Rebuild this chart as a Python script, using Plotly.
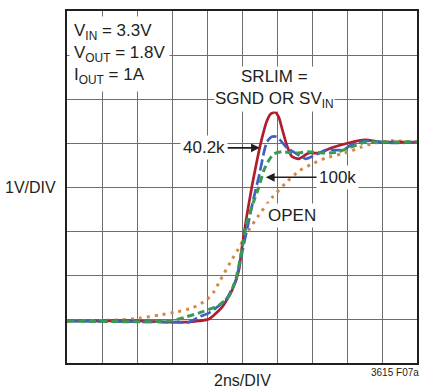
import plotly.graph_objects as go

# Time axis in divisions (2ns/DIV), amplitude in divisions (1V/DIV)
red_t = [0, 0.94, 2.07, 2.93, 3.35, 3.78, 4.06, 4.43, 4.72, 4.91, 5.0, 5.14, 5.28, 5.43,
         5.57, 5.71, 5.82, 5.94, 6.05, 6.14, 6.28, 6.42, 6.62, 6.90, 7.19, 7.56, 8.04,
         8.52, 8.98, 9.46, 10]
red_v = [0.955, 0.955, 0.955, 0.93, 0.93, 0.955, 1.0, 1.27, 1.66, 2.11, 2.64, 3.36, 4.0, 4.61,
         5.11, 5.5, 5.66, 5.70, 5.59, 5.34, 4.95, 4.70, 4.64, 4.77, 4.77, 4.89, 5.0,
         5.07, 5.02, 5.02, 5.02]

blue_t = [0, 2.93, 3.49, 3.78, 4.06, 4.55, 4.83, 5.0, 5.20, 5.34, 5.48, 5.63, 5.71, 5.85,
          5.99, 6.14, 6.28, 6.53, 6.82, 7.10, 7.39, 7.67, 7.90, 8.10, 8.52, 8.98, 9.46, 10]
blue_v = [0.955, 0.93, 0.93, 1.05, 1.14, 1.45, 1.89, 2.5, 3.25, 3.77, 4.23, 4.80, 5.02, 5.14,
          5.14, 5.02, 4.89, 4.77, 4.64, 4.73, 4.84, 4.84, 4.84, 4.95, 5.05, 5.02, 5.0, 5.02]

green_t = [0, 2.93, 3.41, 3.86, 4.35, 4.63, 4.83, 5.0, 5.14, 5.34, 5.48, 5.63, 5.77, 5.91,
           6.14, 6.53, 6.90, 7.39, 7.76, 8.13, 8.52, 8.98, 10]
green_v = [0.955, 0.955, 1.05, 1.16, 1.32, 1.52, 1.93, 2.59, 3.2, 3.68, 4.0, 4.39, 4.61, 4.75,
           4.80, 4.77, 4.80, 4.77, 4.80, 4.91, 5.02, 5.02, 5.02]

orange_t = [0, 1.51, 2.07, 2.64, 3.13, 3.58, 3.98, 4.18, 4.35, 4.72, 4.91, 5.14, 5.48, 5.85,
            6.25, 6.62, 6.99, 7.39, 7.84, 8.13, 8.41, 8.81, 9.26, 10]
orange_v = [0.955, 0.98, 1.02, 1.09, 1.16, 1.25, 1.43, 1.6, 1.84, 2.36, 2.61, 2.95, 3.36, 3.75,
            4.09, 4.36, 4.52, 4.66, 4.75, 4.82, 4.91, 5.0, 5.05, 5.02]

FONT = "Liberation Sans Narrow, Liberation Sans, Arial, sans-serif"
INK = "#231f20"
FS = 17

fig = go.Figure()
fig.add_trace(go.Scatter(x=orange_t, y=orange_v, mode="lines",
                         line=dict(color="#d48a45", width=3, dash="3px,5px", shape="spline", smoothing=0.6)))
fig.add_trace(go.Scatter(x=red_t, y=red_v, mode="lines",
                         line=dict(color="#ad1f2b", width=2.7, shape="spline", smoothing=0.6)))
fig.add_trace(go.Scatter(x=blue_t, y=blue_v, mode="lines",
                         line=dict(color="#3d5fc6", width=2.7, dash="11px,4px", shape="spline", smoothing=0.5)))
fig.add_trace(go.Scatter(x=green_t, y=green_v, mode="lines",
                         line=dict(color="#3b9a51", width=3, dash="7px,4px", shape="spline", smoothing=0.6)))

ann = []
ann.append(dict(x=0, y=7.9, xref="x", yref="y", xanchor="left", yanchor="top", align="left",
                text="V<sub>IN</sub> = 3.3V<br>V<sub>OUT</sub> = 1.8V<br>I<sub>OUT</sub> = 1A",
                showarrow=False, bgcolor="white", borderpad=4, xshift=2, yshift=-1,
                font=dict(family=FONT, size=FS, color=INK)))
ann.append(dict(x=5.94, y=6.3, xref="x", yref="y", align="center", yshift=-3,
                text="SRLIM =<br>SGND OR SV<sub>IN</sub>",
                showarrow=False, bgcolor="white", borderpad=0,
                font=dict(family=FONT, size=FS, color=INK)))
ann.append(dict(x=5.51, y=4.89, ax=3.92, ay=4.89, xref="x", yref="y", axref="x", ayref="y",
                text="40.2k", showarrow=True, arrowhead=2, arrowsize=1.1, arrowwidth=1.6,
                arrowcolor=INK, bgcolor="white", borderpad=2,
                font=dict(family=FONT, size=FS, color=INK)))
ann.append(dict(x=5.68, y=4.22, ax=7.73, ay=4.22, xref="x", yref="y", axref="x", ayref="y",
                text="100k", showarrow=True, arrowhead=2, arrowsize=1.1, arrowwidth=1.6,
                arrowcolor=INK, bgcolor="white", borderpad=2,
                font=dict(family=FONT, size=FS, color=INK)))
ann.append(dict(x=6.42, y=3.36, xref="x", yref="y", text="OPEN", showarrow=False,
                bgcolor="white", borderpad=2, font=dict(family=FONT, size=FS, color=INK)))
ann.append(dict(x=0, y=0.5, xref="paper", yref="paper", xanchor="right", yanchor="middle",
                xshift=-9, text="1V/DIV", showarrow=False,
                font=dict(family=FONT, size=16, color=INK)))
ann.append(dict(x=0.5, y=0, xref="paper", yref="paper", xanchor="center", yanchor="middle",
                yshift=-17, text="2ns/DIV", showarrow=False,
                font=dict(family=FONT, size=16, color=INK)))
ann.append(dict(x=1, y=0, xref="paper", yref="paper", xanchor="right", yanchor="middle",
                xshift=4, yshift=-9, text="3615 F07a", showarrow=False,
                font=dict(family=FONT, size=10, color=INK)))

fig.update_layout(
    width=422, height=388,
    margin=dict(l=67, r=3, t=11, b=25),
    paper_bgcolor="white", plot_bgcolor="white",
    showlegend=False,
    annotations=ann,
)
fig.update_xaxes(range=[0, 10], dtick=1, tick0=0, showticklabels=False, ticks="",
                 showgrid=True, gridcolor="#6d6e71", gridwidth=1.3, zeroline=False,
                 showline=True, mirror=True, linecolor=INK, linewidth=2)
fig.update_yaxes(range=[0, 8], dtick=1, tick0=0, showticklabels=False, ticks="",
                 showgrid=True, gridcolor="#6d6e71", gridwidth=1.3, zeroline=False,
                 showline=True, mirror=True, linecolor=INK, linewidth=2)

fig.write_html("out.html")
